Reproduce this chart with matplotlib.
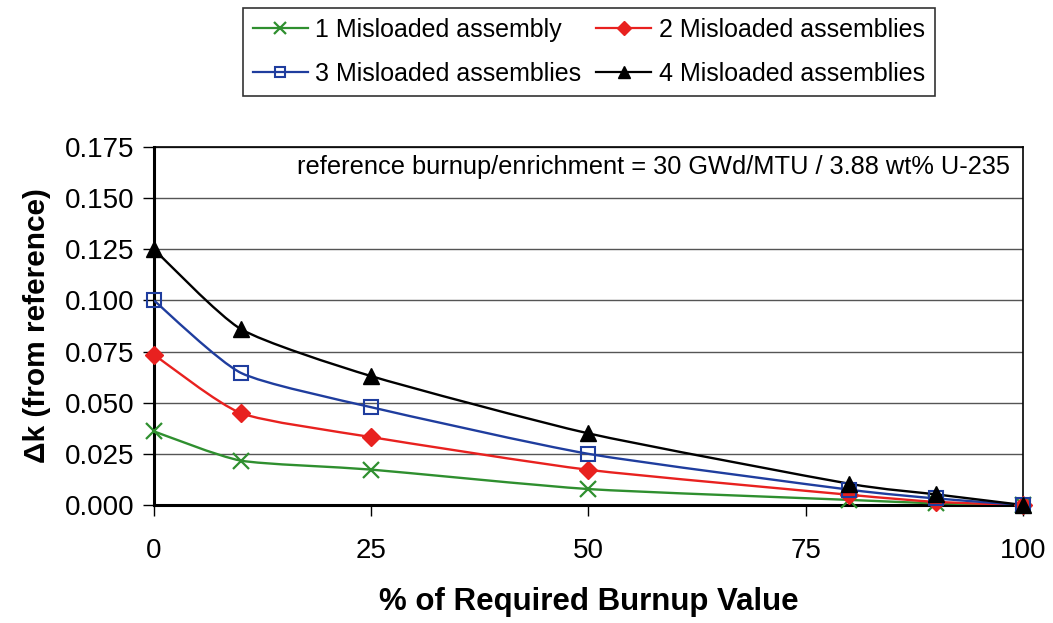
import matplotlib
matplotlib.use("Agg")
import matplotlib.pyplot as plt
import numpy as np
from matplotlib.path import Path
from matplotlib.patches import PathPatch
from matplotlib.lines import Line2D

plt.rcParams['font.family'] = ['Liberation Sans', 'DejaVu Sans']

burnup_pct = [0, 10, 25, 50, 80, 90, 100]
dk_1 = [0.036, 0.0217, 0.0173, 0.0078, 0.0025, 0.0008, 0.0]
dk_2 = [0.0735, 0.0449, 0.0332, 0.0172, 0.005, 0.0015, 0.0]
dk_3 = [0.1000, 0.0646, 0.0478, 0.0250, 0.0075, 0.0032, 0.0]
dk_4 = [0.1250, 0.0860, 0.0630, 0.0350, 0.0104, 0.0052, 0.0]

labels = ["1 Misloaded assembly", "2 Misloaded assemblies",
          "3 Misloaded assemblies", "4 Misloaded assemblies"]
annotation = "reference burnup/enrichment = 30 GWd/MTU / 3.88 wt% U-235"

styles = [
    dict(color="#2f8f2f", marker="x", ms=11, mfc="none", mew=1.6),
    dict(color="#e8211f", marker="D", ms=9, mfc="#e8211f", mew=1),
    dict(color="#1f3d9e", marker="s", ms=10, mfc="none", mew=1.5),
    dict(color="black", marker="^", ms=11, mfc="black", mew=1),
]


def smooth_path(x, y, k=1.0 / 10.0):
    x = np.asarray(x, float)
    y = np.asarray(y, float)
    pts = np.column_stack([x, y])
    verts = [pts[0]]
    codes = [Path.MOVETO]
    n = len(pts)
    for i in range(n - 1):
        p0 = pts[i - 1] if i > 0 else pts[i]
        p1 = pts[i]
        p2 = pts[i + 1]
        p3 = pts[i + 2] if i + 2 < n else pts[i + 1]
        c1 = p1 + (p2 - p0) * k
        c2 = p2 - (p3 - p1) * k
        verts += [c1, c2, p2]
        codes += [Path.CURVE4] * 3
    return Path(verts, codes)


fig = plt.figure(figsize=(10.53, 6.23), dpi=100)
ax = fig.add_axes([0.1462, 0.1894, 0.8253, 0.5746])

series = [dk_1, dk_2, dk_3, dk_4]
handles = []
for vals, st, lab in zip(series, styles, labels):
    patch = PathPatch(smooth_path(burnup_pct, vals), fill=False,
                      edgecolor=st["color"], lw=1.7, zorder=3)
    ax.add_patch(patch)
    ax.plot(burnup_pct, vals, linestyle="none", marker=st["marker"],
            ms=st["ms"], mfc=st["mfc"], mec=st["color"], mew=st["mew"],
            zorder=4, clip_on=False)
    handles.append(Line2D([], [], color=st["color"], lw=1.6,
                          marker=st["marker"], ms=st["ms"] * 0.75,
                          mfc=st["mfc"], mec=st["color"], mew=st["mew"]))

ax.set_xlim(0, 100)
ax.set_ylim(0, 0.175)
ax.set_xticks([0, 25, 50, 75, 100])
ax.set_yticks(np.arange(0, 0.176, 0.025))
ax.yaxis.set_major_formatter(matplotlib.ticker.FormatStrFormatter('%.3f'))
ax.tick_params(axis='both', labelsize=20, direction='out', length=8,
               width=1, color='black')
ax.tick_params(axis='x', pad=16)
ax.tick_params(axis='y', pad=6)
ax.grid(axis='y', color='#555555', lw=1)
ax.set_axisbelow(True)
for s in ['top', 'right']:
    ax.spines[s].set_linewidth(1.2)
for s in ['left', 'bottom']:
    ax.spines[s].set_linewidth(2.2)

ax.set_xlabel("% of Required Burnup Value", fontsize=22.5, fontweight='bold',
              labelpad=16)
ax.set_ylabel("Δk (from reference)", fontsize=21.5, fontweight='bold',
              labelpad=10)

ax.text(0.985, 0.945, annotation, transform=ax.transAxes, ha='right',
        va='center', fontsize=18.3)

order = [0, 2, 1, 3]
leg = fig.legend([handles[i] for i in order], [labels[i] for i in order],
                 ncol=2, loc='center',
                 bbox_to_anchor=(0.559, 0.917), fontsize=18,
                 frameon=True, fancybox=False, edgecolor='black',
                 handlelength=2.2, handletextpad=0.3, columnspacing=0.6,
                 borderpad=0.4, labelspacing=0.8)
leg.get_frame().set_linewidth(1.2)

fig.savefig("out.png", dpi=100)
